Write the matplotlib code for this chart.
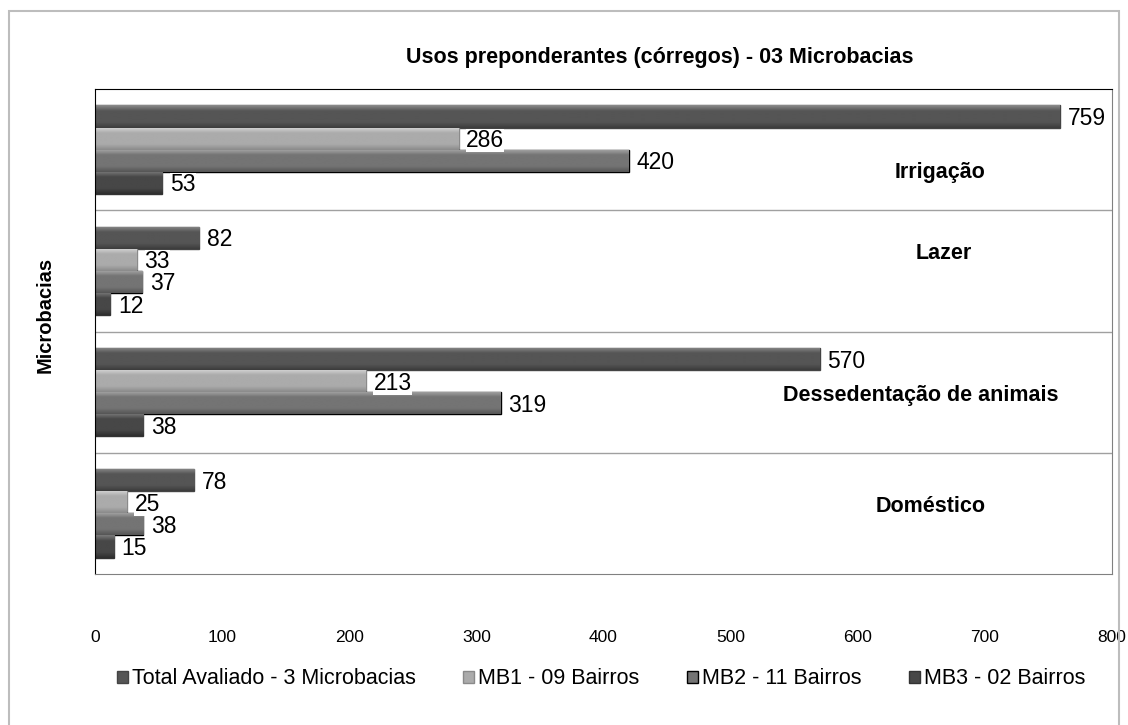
import matplotlib.pyplot as plt
import numpy as np
from matplotlib.colors import LinearSegmentedColormap
from matplotlib.patches import Patch, Rectangle

plt.rcParams['font.family'] = ['Liberation Sans', 'DejaVu Sans']

# usage categories, bottom to top
categories = ['Doméstico', 'Dessedentação de animais', 'Lazer', 'Irrigação']
series = ['Total Avaliado - 3 Microbacias', 'MB1 - 09 Bairros',
          'MB2 - 11 Bairros', 'MB3 - 02 Bairros']
total = [78, 570, 82, 759]
mb1 = [25, 213, 33, 286]
mb2 = [38, 319, 37, 420]
mb3 = [15, 38, 12, 53]
values = [total, mb1, mb2, mb3]

# (highlight, body, shadow, edge) per series
shades = [('#8c8c8c', '#555555', '#3c3c3c', '#444444'),
          ('#d6d6d6', '#ababab', '#8a8a8a', '#8a8a8a'),
          ('#a8a8a8', '#747474', '#555555', '#000000'),
          ('#7a7a7a', '#474747', '#2e2e2e', '#333333')]

W, H = 1128, 725
fig = plt.figure(figsize=(W / 100, H / 100), dpi=100)
ax = fig.add_axes([95 / W, 1 - 574 / H, (1112 - 95) / W, (574 - 89) / H])

h = 0.182
offsets = [1.5 * h, 0.5 * h, -0.5 * h, -1.5 * h]
y = np.arange(len(categories))
grad = np.linspace(0, 1, 64).reshape(-1, 1)

for vals, off, (hi, body, sh, ec) in zip(values, offsets, shades):
    cmap = LinearSegmentedColormap.from_list('bevel', [sh, body, body, body, hi])
    bars = ax.barh(y + off, vals, height=h, color=body, edgecolor=ec,
                   linewidth=1.0, zorder=2)
    for b, v in zip(bars, vals):
        x0, y0 = b.get_x(), b.get_y()
        im = ax.imshow(grad, extent=(x0, x0 + b.get_width(), y0, y0 + h),
                       origin='lower', cmap=cmap, aspect='auto', zorder=2.5,
                       interpolation='bilinear')
        im.set_clip_path(b)
        ax.annotate(str(v), (v, y0 + h / 2), xytext=(5.5, -1.5),
                    textcoords='offset points', va='center', ha='left',
                    fontsize=16.5, zorder=4,
                    bbox=dict(boxstyle='square,pad=0.0', fc='white', ec='none'))

# category names inside the plot, right side of each band
label_x = [931, 921, 944, 940]
label_dy = [0.054, -0.03, 0.144, -0.19]
for name, i, cx, dy in zip(categories, y, label_x, label_dy):
    ax.text((cx - 95) / (1112 - 95) * 800, i + dy, name,
            ha='center', va='center', fontsize=15.5, fontweight='bold', zorder=4)

ax.set_xlim(0, 800)
ax.set_ylim(-0.5, 3.5)
ax.set_xticks(range(0, 801, 100))
ax.set_yticks([])
for yy in [0.5, 1.5, 2.5]:
    ax.axhline(yy, color='#a0a0a0', lw=1, zorder=1)
ax.tick_params(axis='x', length=0, labelsize=12.5, pad=40)
for s in ['top', 'left']:
    ax.spines[s].set_color('black')
for s in ['bottom', 'right']:
    ax.spines[s].set_color('#808080')

ax.set_ylabel('Microbacias', fontsize=14.5, fontweight='bold')
ax.yaxis.set_label_coords(-0.04, 0.534)
fig.text(660 / W, 1 - 58 / H, 'Usos preponderantes (córregos) - 03 Microbacias',
         ha='center', va='center', fontsize=15.5, fontweight='bold')

handles = [Patch(facecolor=s[1], edgecolor=s[3]) for s in shades]
fig.legend(handles, series, loc='center', bbox_to_anchor=(601 / W, 1 - 679 / H),
           ncol=4, frameon=False, fontsize=15.5, handlelength=0.5, handleheight=0.5,
           handletextpad=0.2, columnspacing=2.2)

# outer chart frame
fig.patches.append(Rectangle((9 / W, -0.1), (1119 - 9) / W, 1.1 - 11 / H,
                             transform=fig.transFigure, fill=False,
                             ec='#bdbdbd', lw=1.5))

fig.savefig('out.png', dpi=100, facecolor='white')
